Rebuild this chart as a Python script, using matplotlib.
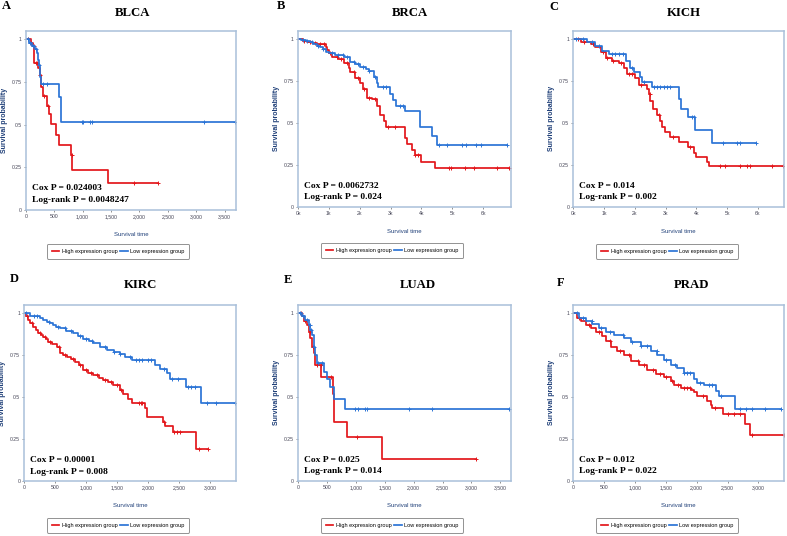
import matplotlib
matplotlib.use("Agg")
import matplotlib.pyplot as plt
import numpy as np

# Kaplan-Meier curves: step times (days), survival after each step,
# last follow-up time and censor times for the high / low expression groups

# A - BLCA
blca_high_t = [0, 89, 124, 154, 225, 249, 272, 302, 373, 402, 444, 533, 592, 799, 822, 1456]
blca_high_s = [1.0, 0.98, 0.96, 0.86, 0.83, 0.79, 0.72, 0.67, 0.61, 0.565, 0.505, 0.44, 0.38, 0.32, 0.235, 0.16]
blca_high_end = 2330
blca_high_cens = [40, 100, 140, 180, 200, 260, 330, 400, 810, 1900, 2330]
blca_low_t = [0, 60, 110, 170, 200, 215, 230, 245, 260, 272, 586, 615]
blca_low_s = [1.0, 0.98, 0.96, 0.94, 0.92, 0.88, 0.85, 0.82, 0.78, 0.735, 0.66, 0.515]
blca_low_end = 3690
blca_low_cens = [40, 80, 130, 190, 240, 300, 380, 985, 1000, 1130, 1160, 3130, 3690]

# B - BRCA
brca_high_t = [0, 150, 300, 450, 600, 800, 900, 950, 1000, 1100, 1300, 1500, 1650, 1700, 1850, 2000,
               2100, 2240, 2400, 2560, 2670, 2780, 2850, 3460, 3530, 3700, 3780, 4000, 4430]
brca_high_s = [1.0, 0.99, 0.98, 0.975, 0.973, 0.97, 0.955, 0.935, 0.915, 0.895, 0.88, 0.86, 0.83, 0.805,
               0.77, 0.74, 0.70, 0.65, 0.64, 0.60, 0.55, 0.51, 0.473, 0.407, 0.372, 0.34, 0.308, 0.268, 0.233]
brca_high_end = 6850
brca_high_cens = [200, 400, 550, 700, 850, 1050, 1250, 1400, 1600, 1800, 1950, 2150, 2300, 2500, 2900,
                  3150, 3800, 3900, 4890, 4970, 5410, 5710, 6460, 6850]
brca_low_t = [0, 100, 250, 400, 500, 600, 700, 800, 900, 1000, 1200, 1500, 1700, 1850, 2000, 2200, 2300,
              2450, 2560, 2600, 2970, 3080, 3180, 3460, 3940, 4350, 4500]
brca_low_s = [1.0, 0.995, 0.99, 0.98, 0.97, 0.96, 0.95, 0.94, 0.925, 0.915, 0.905, 0.895, 0.865, 0.85, 0.835,
              0.82, 0.81, 0.775, 0.74, 0.712, 0.67, 0.636, 0.60, 0.57, 0.473, 0.423, 0.368]
brca_low_end = 6780
brca_low_cens = [150, 300, 450, 650, 800, 1100, 1300, 1450, 1600, 1800, 1950, 2100, 2300, 2500, 2750, 2850,
                 3300, 3400, 4560, 4830, 5320, 5430, 5780, 5940, 6780]

# C - KICH
kich_high_t = [0, 240, 560, 720, 890, 1050, 1260, 1480, 1640, 1750, 2020, 2130, 2380, 2450, 2500, 2580,
               2720, 2810, 2890, 2990, 3160, 3450, 3730, 3930, 4000, 4350, 4420]
kich_high_s = [1.0, 0.98, 0.97, 0.95, 0.92, 0.89, 0.87, 0.855, 0.825, 0.79, 0.765, 0.726, 0.70, 0.67, 0.63,
               0.58, 0.547, 0.513, 0.473, 0.447, 0.417, 0.388, 0.358, 0.318, 0.298, 0.266, 0.245]
kich_high_end = 6810
kich_high_cens = [150, 350, 650, 950, 1100, 1300, 1550, 1800, 1900, 2200, 2480, 2800, 3250, 3800,
                  4780, 4920, 5410, 5660, 5750, 6450, 6810]
kich_low_t = [0, 450, 720, 940, 1160, 1700, 1840, 1970, 2160, 2240, 2560, 3430, 3500, 3720, 3970, 4500]
kich_low_s = [1.0, 0.98, 0.96, 0.93, 0.91, 0.871, 0.825, 0.805, 0.775, 0.745, 0.712, 0.64, 0.58, 0.533,
              0.457, 0.382]
kich_low_end = 5950
kich_low_cens = [100, 300, 600, 850, 1250, 1350, 1500, 1600, 1900, 2300, 2620, 2720, 2830, 2940, 3050,
                 3160, 3860, 3940, 4860, 5320, 5430, 5950]

# D - KIRC
kirc_high_t = [0, 30, 65, 100, 145, 190, 226, 270, 307, 350, 388, 450, 522, 576, 630, 684, 750, 818, 880,
               953, 1030, 1115, 1200, 1276, 1360, 1438, 1545, 1600, 1680, 1734, 1950, 1987, 2245, 2272,
               2396, 2773]
kirc_high_s = [1.0, 0.98, 0.96, 0.94, 0.92, 0.90, 0.88, 0.87, 0.86, 0.845, 0.828, 0.815, 0.798, 0.762,
               0.75, 0.739, 0.725, 0.709, 0.69, 0.663, 0.645, 0.63, 0.615, 0.604, 0.59, 0.57, 0.545, 0.519,
               0.491, 0.465, 0.436, 0.38, 0.352, 0.331, 0.291, 0.192]
kirc_high_end = 2973
kirc_high_cens = [50, 120, 260, 330, 420, 560, 650, 780, 900, 1000, 1080, 1180, 1300, 1400, 1500, 1560,
                  1850, 1880, 1900, 2250, 2420, 2470, 2520, 2830, 2973]
kirc_low_t = [0, 92, 253, 300, 361, 420, 468, 520, 576, 680, 791, 870, 953, 1040, 1115, 1222, 1330, 1450,
              1545, 1626, 1734, 2110, 2191, 2299, 2353, 2606, 2848]
kirc_low_s = [1.0, 0.98, 0.97, 0.96, 0.95, 0.94, 0.93, 0.92, 0.911, 0.895, 0.881, 0.865, 0.848, 0.835,
              0.822, 0.798, 0.782, 0.77, 0.758, 0.737, 0.723, 0.693, 0.669, 0.644, 0.608, 0.56, 0.465]
kirc_low_end = 3403
kirc_low_cens = [30, 150, 200, 400, 550, 650, 750, 900, 1000, 1100, 1300, 1450, 1550, 1700, 1800, 1850,
                 1900, 2000, 2050, 2250, 2380, 2480, 2650, 2700, 2750, 2950, 3100, 3403]

# E - LUAD
luad_high_t = [0, 69, 98, 156, 185, 213, 242, 271, 300, 398, 600, 617, 848, 1453]
luad_high_s = [1.0, 0.98, 0.95, 0.93, 0.89, 0.851, 0.80, 0.761, 0.69, 0.616, 0.517, 0.35, 0.26, 0.13]
luad_high_end = 3085
luad_high_cens = [50, 120, 200, 260, 330, 390, 577, 1020, 3085]
luad_low_t = [0, 69, 127, 185, 213, 242, 271, 300, 329, 456, 502, 559, 617, 819]
luad_low_s = [1.0, 0.98, 0.96, 0.93, 0.90, 0.87, 0.80, 0.75, 0.70, 0.648, 0.606, 0.557, 0.487, 0.43]
luad_low_end = 3645
luad_low_cens = [40, 90, 150, 200, 230, 280, 350, 420, 992, 1038, 1165, 1194, 1915, 2318, 3645]

# F - PRAD
prad_high_t = [0, 65, 119, 200, 281, 362, 470, 524, 605, 714, 822, 930, 1065, 1200, 1335, 1470, 1578,
               1632, 1741, 1903, 1957, 2011, 2173, 2227, 2254, 2432, 2778, 2859]
prad_high_s = [1.0, 0.97, 0.95, 0.93, 0.91, 0.887, 0.861, 0.835, 0.797, 0.775, 0.748, 0.716, 0.692, 0.662,
               0.638, 0.618, 0.592, 0.569, 0.553, 0.543, 0.529, 0.503, 0.477, 0.453, 0.433, 0.398, 0.338, 0.27]
prad_high_end = 3416
prad_high_cens = [100, 250, 420, 600, 750, 900, 1050, 1150, 1300, 1400, 1500, 1600, 1700, 1800, 1850,
                  1900, 2100, 2300, 2500, 2600, 2700, 2900, 3416]
prad_low_t = [0, 92, 200, 308, 416, 524, 659, 822, 930, 1092, 1254, 1362, 1470, 1578, 1686, 1795, 1957,
              2011, 2119, 2308, 2362, 2627]
prad_low_s = [1.0, 0.97, 0.95, 0.934, 0.91, 0.887, 0.871, 0.851, 0.827, 0.801, 0.771, 0.748, 0.722, 0.692,
              0.672, 0.642, 0.608, 0.583, 0.569, 0.537, 0.503, 0.429]
prad_low_end = 3362
prad_low_cens = [60, 150, 300, 450, 600, 800, 950, 1100, 1200, 1350, 1500, 1650, 1800, 1850, 1900, 2050,
                 2200, 2250, 2400, 2700, 2800, 2900, 3100, 3362]

names = ["BLCA", "BRCA", "KICH", "KIRC", "LUAD", "PRAD"]
letters = ["A", "B", "C", "D", "E", "F"]
cox_p = ["0.024003", "0.0062732", "0.014", "0.00001", "0.025", "0.012"]
logrank_p = ["0.0048247", "0.024", "0.002", "0.008", "0.014", "0.022"]
x_max = [3700, 6900, 6850, 3420, 3690, 3416]
k_axis = [False, True, True, False, False, False]

high = [(blca_high_t, blca_high_s, blca_high_end, blca_high_cens),
        (brca_high_t, brca_high_s, brca_high_end, brca_high_cens),
        (kich_high_t, kich_high_s, kich_high_end, kich_high_cens),
        (kirc_high_t, kirc_high_s, kirc_high_end, kirc_high_cens),
        (luad_high_t, luad_high_s, luad_high_end, luad_high_cens),
        (prad_high_t, prad_high_s, prad_high_end, prad_high_cens)]
low = [(blca_low_t, blca_low_s, blca_low_end, blca_low_cens),
       (brca_low_t, brca_low_s, brca_low_end, brca_low_cens),
       (kich_low_t, kich_low_s, kich_low_end, kich_low_cens),
       (kirc_low_t, kirc_low_s, kirc_low_end, kirc_low_cens),
       (luad_low_t, luad_low_s, luad_low_end, luad_low_cens),
       (prad_low_t, prad_low_s, prad_low_end, prad_low_cens)]

RED = "#e3171b"
BLUE = "#2b74d6"
SPINE = "#a9c0da"
NAVY = "#1f3f78"
SERIF = "Liberation Serif"
SANS = "Liberation Sans"

W, H = 787, 536
fig = plt.figure(figsize=(W / 100, H / 100), dpi=100)

# layout in pixels (left, top, right, bottom)
axes_px = [(25.7, 30.7, 236, 210), (298, 30.7, 511, 206.7), (573.3, 30.7, 784, 206.7),
           (24.3, 304.7, 236, 481.3), (298, 304.7, 511.3, 480.7), (573.3, 304.7, 784, 480.7)]
title_px = [(133, 13), (410, 13), (684, 13), (140, 285), (418, 285), (692, 285)]
letter_px = [(6, 6), (281, 6), (554, 7), (14, 279), (288, 280), (561, 282.5)]
legend_px = [(118, 251), (392, 250.5), (667, 251), (118, 525), (392, 525), (667, 525)]


def km(ax, t, s, end, cens, color, label):
    t = np.asarray(t, float)
    s = np.asarray(s, float)
    ax.step(np.append(t, end), np.append(s, s[-1]), where="post", color=color, lw=1.25, label=label)
    idx = np.searchsorted(t, cens, side="right") - 1
    ax.plot(cens, s[idx], ls="none", marker="+", ms=3.5, mew=0.7, color=color)


for i in range(6):
    l, t, r, b = axes_px[i]
    ax = fig.add_axes([l / W, 1 - b / H, (r - l) / W, (b - t) / H])
    km(ax, *high[i], RED, "High expression group")
    km(ax, *low[i], BLUE, "Low expression group")

    ax.set_xlim(0, x_max[i])
    ax.set_ylim(0, 1.05)
    ax.set_yticks([0, 0.25, 0.5, 0.75, 1])
    ax.set_yticklabels(["0", "0.25", "0.5", "0.75", "1"])
    if k_axis[i]:
        ticks = np.arange(0, 7000, 1000)
        ax.set_xticks(ticks)
        ax.set_xticklabels([f"{v // 1000}k" for v in ticks])
    else:
        ticks = np.arange(0, x_max[i] - 100, 500)
        ax.set_xticks(ticks)
        ax.set_xticklabels([f"{v:,}" for v in ticks])
    for sp in ax.spines.values():
        sp.set_color(SPINE)
        sp.set_linewidth(1.1)
    ax.tick_params(length=1.5, width=0.5, color="#666666", pad=1.5,
                   labelsize=3.7, labelcolor="#444455")
    for lab in ax.get_xticklabels() + ax.get_yticklabels():
        lab.set_family(SANS)

    ax.set_ylabel("Survival probability", fontsize=5, fontweight="bold", color=NAVY, family=SANS)
    ax.yaxis.set_label_coords(-0.085, 0.5)
    ax.set_xlabel("Survival time", fontsize=4.3, color=NAVY, family=SANS)
    ax.xaxis.set_label_coords(0.5, -22 / (b - t))

    ax.text(0.028, 0.12, f"Cox P = {cox_p[i]}", transform=ax.transAxes, ha="left", va="center",
            fontsize=6.8, fontweight="bold", family=SERIF)
    ax.text(0.028, 0.053, f"Log-rank P = {logrank_p[i]}", transform=ax.transAxes, ha="left", va="center",
            fontsize=6.8, fontweight="bold", family=SERIF)

    leg = ax.legend(loc="center", bbox_to_anchor=(legend_px[i][0] / W, 1 - legend_px[i][1] / H),
                    bbox_transform=fig.transFigure, ncol=2, frameon=True, fancybox=True,
                    handlelength=1.4, handletextpad=0.4, columnspacing=0.5, borderpad=0.9,
                    prop={"family": SANS, "size": 4})
    leg.get_frame().set_edgecolor("#777777")
    leg.get_frame().set_linewidth(0.7)

    fig.text(title_px[i][0] / W, 1 - title_px[i][1] / H, names[i], ha="center", va="center",
             fontsize=9.2, fontweight="bold", family=SERIF)
    fig.text(letter_px[i][0] / W, 1 - letter_px[i][1] / H, letters[i], ha="center", va="center",
             fontsize=9, fontweight="bold", family=SERIF)

fig.savefig("out.png", dpi=100)
